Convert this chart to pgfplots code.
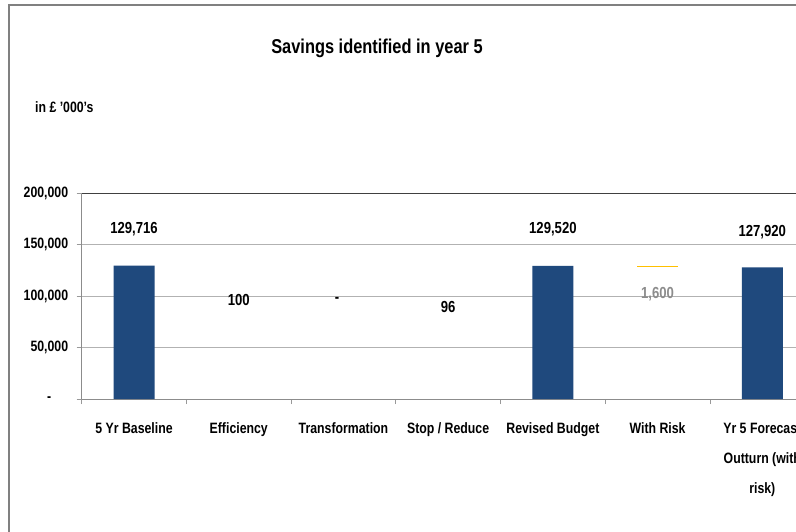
\documentclass[border=0pt]{standalone}
\usepackage{fontspec}
\setmainfont{Liberation Sans}[FakeStretch=0.82]
\usepackage{pgfplots}
\pgfplotsset{compat=1.18}
\definecolor{navy}{RGB}{31,73,125}
\definecolor{gold}{RGB}{255,192,0}
\begin{document}
\begin{tikzpicture}[x=1pt,y=1pt]
\useasboundingbox (0,0) rectangle (796,531);
\clip (0,0) rectangle (796,531);
\fill[white] (0,0) rectangle (796,531);
\draw[black!50, line width=1.5pt] (9,-5) -- (9,526) -- (805,526);
\node[font=\fontsize{20}{24}\selectfont\bfseries] at (377,483) {Savings identified in year 5};
\node[font=\fontsize{15}{18}\selectfont\bfseries, anchor=west, inner sep=0pt] at (35,424) {in £ '000's};
\begin{axis}[
  at={(78,128)}, anchor=south west,
  scale only axis, width=733pt, height=206pt,
  xmin=-0.5, xmax=6.5, ymin=0, ymax=200000,
  scaled y ticks=false,
  ybar stacked, bar width=41pt,
  xtick={-0.5,0.5,1.5,2.5,3.5,4.5,5.5,6.5},
  xticklabels={},
  extra x ticks={0,1,2,3,4,5,6},
  extra x tick labels={5 Yr Baseline, Efficiency, Transformation, Stop / Reduce, Revised Budget, With Risk, {Yr 5 Forecast\\Outturn (with\\risk)}},
  extra x tick style={major tick length=0pt, tick style={draw=none}},
  xticklabel style={align=center, font=\fontsize{15}{30}\selectfont\bfseries, yshift=-20pt},
  tick align=outside,
  major tick length=5pt,
  tick style={black!40, line width=0.8pt},
  ytick={0,50000,100000,150000},
  yticklabels={{\makebox[21pt][l]{-}},{50{,}000},{100{,}000},{150{,}000}},
  extra y ticks={200000},
  extra y tick labels={200{,}000},
  extra y tick style={grid style={black!75, line width=1pt}},
  yticklabel style={font=\fontsize{15}{18}\selectfont\bfseries, xshift=-5pt},
  ymajorgrids, grid style={black!30, line width=0.8pt},
  axis lines*=left,
  axis line style={black!45, line width=1.2pt},
  clip=false,
]
\addplot[draw=none, fill=none] coordinates {(0,0) (1,129616) (2,129616) (3,129520) (4,0) (5,127920) (6,0)};
\addplot[draw=none, fill=navy] coordinates {(0,129716) (1,0) (2,0) (3,0) (4,129520) (5,0) (6,127920)};
\addplot[draw=none, fill=none] coordinates {(0,0) (1,100) (2,0) (3,96) (4,0) (5,0) (6,0)};
\addplot[draw=none, fill=gold] coordinates {(0,0) (1,0) (2,0) (3,0) (4,0) (5,1600) (6,0)};
\node[font=\fontsize{16}{18}\selectfont\bfseries] at (axis cs:0,165049) {129,716};
\node[font=\fontsize{16}{18}\selectfont\bfseries] at (axis cs:1,96117) {100};
\node[font=\fontsize{16}{18}\selectfont\bfseries] at (axis cs:1.94,96117) {-};
\node[font=\fontsize{16}{18}\selectfont\bfseries] at (axis cs:3,89320) {96};
\node[font=\fontsize{16}{18}\selectfont\bfseries] at (axis cs:4,165049) {129,520};
\node[font=\fontsize{16}{18}\selectfont\bfseries, text=black!45] at (axis cs:5,101942) {1,600};
\node[font=\fontsize{16}{18}\selectfont\bfseries] at (axis cs:6,162136) {127,920};
\end{axis}
\end{tikzpicture}
\end{document}
